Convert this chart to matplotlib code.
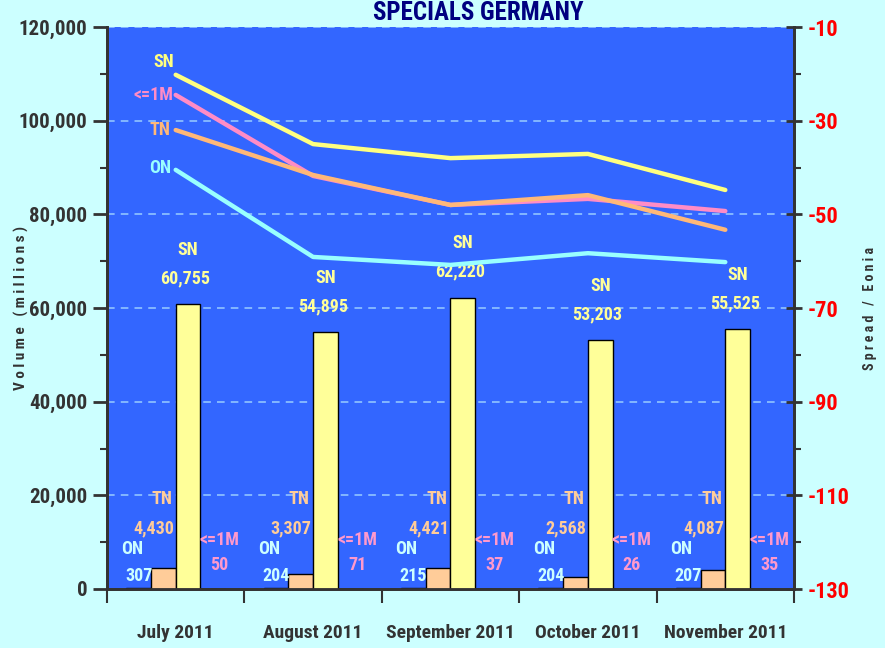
import matplotlib
matplotlib.use("Agg")
import matplotlib.pyplot as plt
import numpy as np
from matplotlib.ticker import FuncFormatter, MultipleLocator, FixedLocator
from matplotlib import font_manager

avail = {f.name for f in font_manager.fontManager.ttflist}
fam = [n for n in ['Liberation Sans Narrow', 'Arimo Narrow', 'Roboto Condensed', 'Archivo Narrow',
                   'Barlow Semi Condensed', 'Barlow Condensed'] if n in avail] + ['DejaVu Sans']
plt.rcParams['font.family'] = fam

months = ["July 2011", "August 2011", "September 2011", "October 2011", "November 2011"]
series = ["ON", "TN", "SN", "<=1M"]
vol_on = [307, 204, 215, 204, 207]
vol_tn = [4430, 3307, 4421, 2568, 4087]
vol_sn = [60755, 54895, 62220, 53203, 55525]
vol_1m = [50, 71, 37, 26, 35]
spr_sn = [-20.2, -35.0, -38.0, -37.1, -44.8]
spr_1m = [-24.5, -41.8, -48.0, -46.7, -49.3]
spr_tn = [-32.0, -41.6, -48.0, -45.9, -53.3]
spr_on = [-40.5, -59.1, -60.8, -58.3, -60.2]
right_ticks = [-130, -110, -90, -70, -50, -30, -10]

BG = "#CCFFFF"
PLOT = "#3366FF"
C_ON_BAR = "#CCFFFF"
C_TN_BAR = "#FFCC99"
C_SN_BAR = "#FFFF99"
C_1M_BAR = "#FF99CC"
C_ON_LINE = "#99FFFF"
C_TN_LINE = "#FFB878"
C_SN_LINE = "#FFFF80"
C_1M_LINE = "#FF8CC6"
TXT = "#333333"

fig = plt.figure(figsize=(8.85, 6.48), dpi=100, facecolor=BG)
ax = fig.add_axes([107/885, 1-589/648, (794-107)/885, (589-27)/648])
ax.set_facecolor(PLOT)

x = np.arange(len(months))
w = 0.18
offs = [-0.27, -0.09, 0.09, 0.27]
bar_cols = [C_ON_BAR, C_TN_BAR, C_SN_BAR, C_1M_BAR]
vols = [vol_on, vol_tn, vol_sn, vol_1m]
for o, v, c in zip(offs, vols, bar_cols):
    ax.bar(x + o, v, width=w, color=c, edgecolor="black", linewidth=1.0, zorder=3)

ax.set_xlim(-0.5, len(months) - 0.5)
ax.set_ylim(0, 120000)
ax.yaxis.set_major_locator(MultipleLocator(20000))
ax.yaxis.set_minor_locator(MultipleLocator(10000))
ax.yaxis.set_major_formatter(FuncFormatter(lambda v, p: f"{int(v):,}"))
ax.grid(axis="y", which="major", color="#99CCFF", linestyle=(0, (5, 4)), linewidth=1.1, zorder=1)
ax.set_axisbelow(True)

ax.set_xticks(x)
ax.set_xticklabels(months, fontsize=14, fontweight="bold", color=TXT)
ax.xaxis.set_minor_locator(FixedLocator(np.arange(-0.5, len(months), 1.0)))
ax.tick_params(axis="x", which="major", length=0, pad=25)
ax.tick_params(axis="x", which="minor", length=10, width=1.5, color="#333333", direction="out")
ax.tick_params(axis="y", which="major", length=10, width=2, color="#333333", direction="out",
               labelsize=15, labelcolor=TXT, pad=4)
ax.tick_params(axis="y", which="minor", length=5, width=1.5, color="#333333", direction="out")
for t in ax.get_yticklabels():
    t.set_fontweight("bold")

for s in ["left", "right", "bottom"]:
    ax.spines[s].set_color("#333333")
    ax.spines[s].set_linewidth(2)
ax.spines["top"].set_visible(False)

ax.set_ylabel("V o l u m e   ( m i l l i o n s )", fontsize=11, color=TXT, fontweight="bold")
ax.yaxis.set_label_coords(-0.113, 0.5)

fs = 13
for i in range(len(months)):
    ax.text(x[i] - 0.32, 8500, "ON", ha="center", va="center", color=C_ON_BAR, fontsize=fs, fontweight="bold", zorder=5)
    ax.text(x[i] - 0.27, 2800, f"{vol_on[i]:,}", ha="center", va="center", color=C_ON_BAR, fontsize=fs, fontweight="bold", zorder=5)
    ax.text(x[i] - 0.10, 19300, "TN", ha="center", va="center", color=C_TN_BAR, fontsize=fs, fontweight="bold", zorder=5)
    ax.text(x[i] - 0.16, 12900, f"{vol_tn[i]:,}", ha="center", va="center", color=C_TN_BAR, fontsize=fs, fontweight="bold", zorder=5)
    ax.text(x[i] + 0.09, vol_sn[i] + 11600, "SN", ha="center", va="center", color=C_SN_BAR, fontsize=fs, fontweight="bold", zorder=5)
    ax.text(x[i] + 0.07, vol_sn[i] + 5500, f"{vol_sn[i]:,}", ha="center", va="center", color=C_SN_BAR, fontsize=fs, fontweight="bold", zorder=5)
    ax.text(x[i] + 0.32, 10500, "<=1M", ha="center", va="center", color=C_1M_BAR, fontsize=fs, fontweight="bold", zorder=5)
    ax.text(x[i] + 0.32, 5200, f"{vol_1m[i]:,}", ha="center", va="center", color=C_1M_BAR, fontsize=fs, fontweight="bold", zorder=5)

ax2 = ax.twinx()
ax2.set_ylim(-130, -10)
ax2.yaxis.set_major_locator(FixedLocator(right_ticks))
ax2.yaxis.set_minor_locator(FixedLocator(np.arange(-120, -10, 20)))
ax2.yaxis.set_major_formatter(FuncFormatter(lambda v, p: f"{int(v)}"))
lines = [(spr_sn, C_SN_LINE, "SN", 2.8, -0.01), (spr_1m, C_1M_LINE, "<=1M", 0.0, -0.02),
         (spr_tn, C_TN_LINE, "TN", 0.0, -0.04), (spr_on, C_ON_LINE, "ON", 0.4, -0.03)]
for vals, c, name, dy, dx in lines:
    ax2.plot(x, vals, color=c, linewidth=3.2, solid_capstyle="round", zorder=4)
    ax2.text(x[0] + dx, vals[0] + dy, name, ha="right", va="center", color=c, fontsize=fs, fontweight="bold")

ax2.tick_params(axis="y", which="major", length=12, width=2, color="#333333", direction="inout",
                labelsize=16, labelcolor="#FF0000", pad=4)
ax2.tick_params(axis="y", which="minor", length=5, width=1.5, color="#333333", direction="out")
for t in ax2.get_yticklabels():
    t.set_fontweight("bold")
for s in ["left", "right", "bottom"]:
    ax2.spines[s].set_color("#333333")
    ax2.spines[s].set_linewidth(2)
ax2.spines["top"].set_visible(False)
ax2.set_ylabel("S p r e a d   /   E o n i a", fontsize=10, color=TXT, fontweight="bold")
ax2.yaxis.set_label_coords(1.10, 0.5)

fig.text(0.54, 0.999, "SPECIALS GERMANY", ha="center", va="top", fontsize=18, fontweight="bold", color="#000080")

fig.savefig("out.png", dpi=100, facecolor=BG)
